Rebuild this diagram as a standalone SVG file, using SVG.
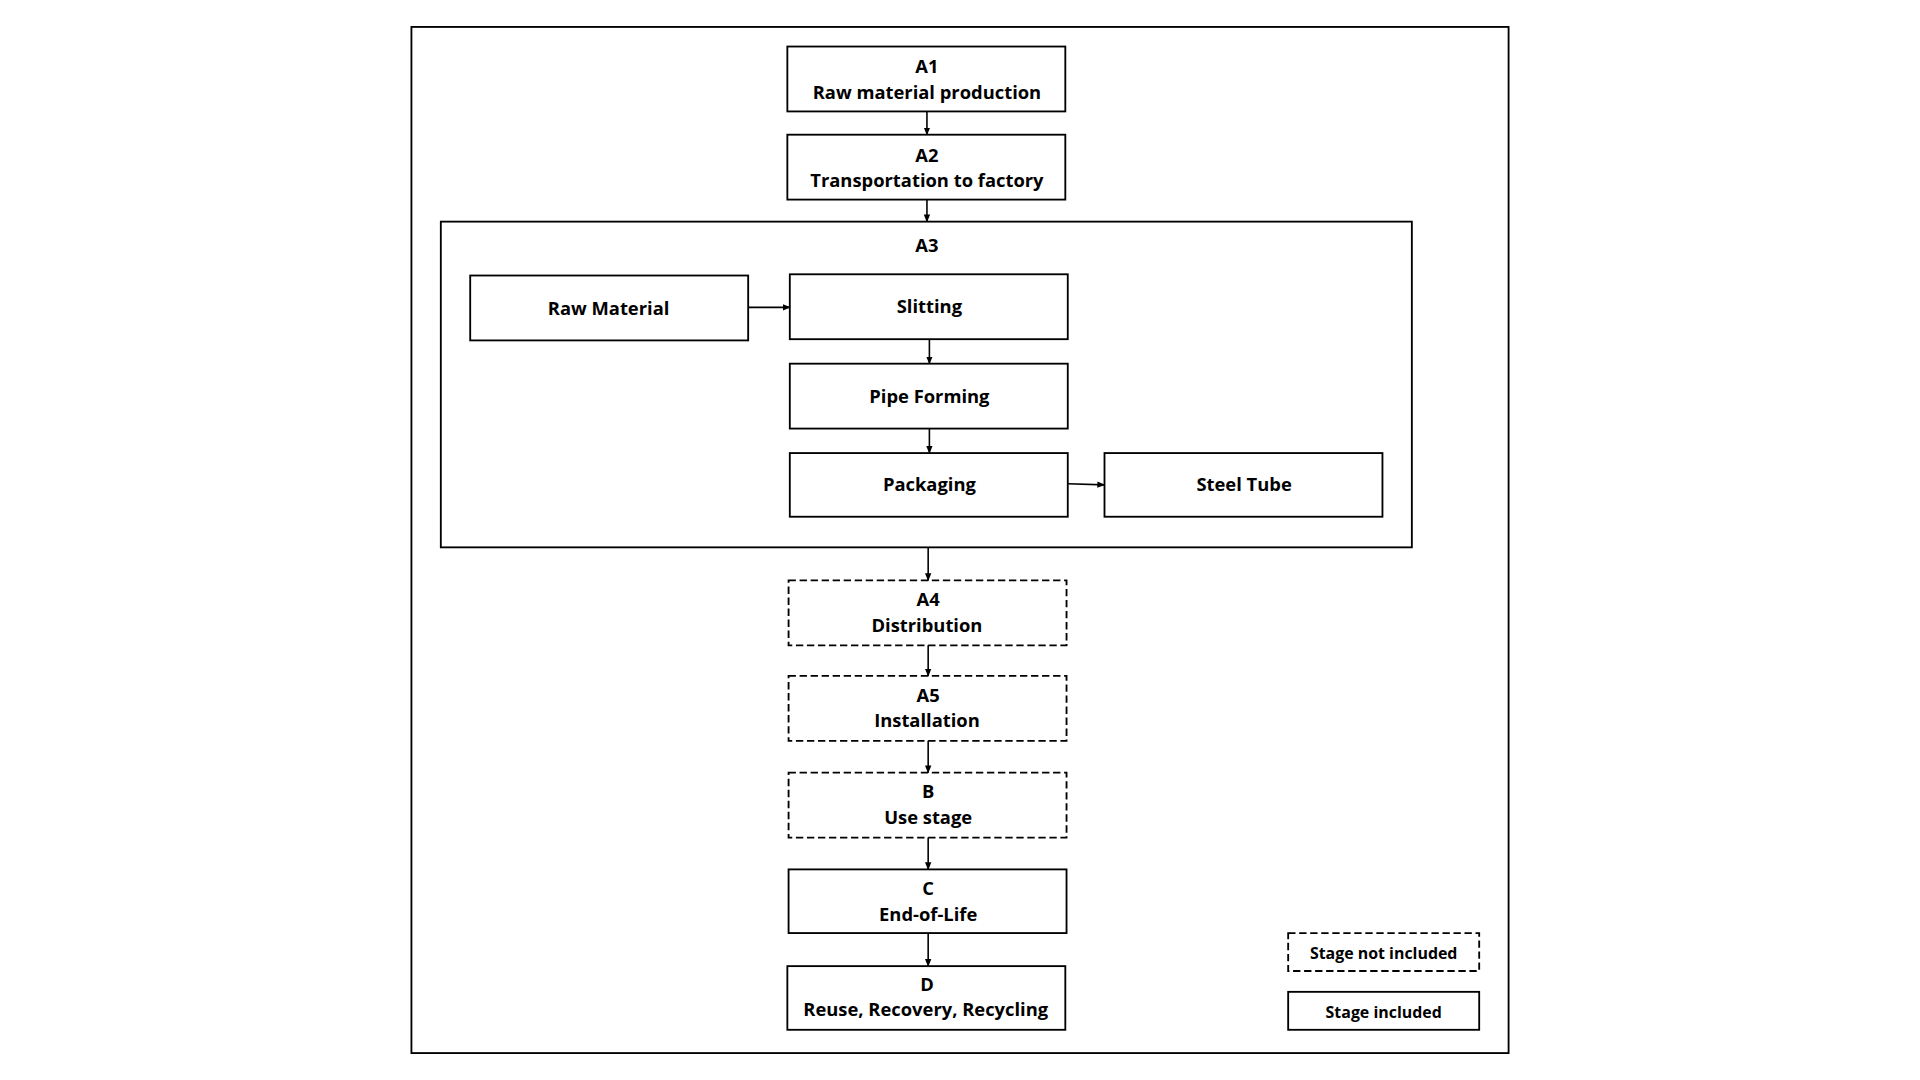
<svg xmlns="http://www.w3.org/2000/svg" width="1920" height="1080" viewBox="0 0 1920 1080">
<defs>
<marker id="ah" viewBox="0 0 10 10" refX="9" refY="5" markerWidth="5" markerHeight="5" orient="auto"><path d="M0,1 L10,5 L0,9 z" fill="#000"/></marker>
<style>
.b{fill:#fff;stroke:#000;stroke-width:1.5}
.d{fill:#fff;stroke:#000;stroke-width:1.5;stroke-dasharray:6,3}
.t{font-family:"Open Sans","Liberation Sans",sans-serif;font-weight:bold;font-size:15px;text-anchor:middle;fill:#000}
.s{font-size:13px}
.c{stroke:#000;stroke-width:1.3;fill:none;marker-end:url(#ah)}
</style>
</defs>
<rect width="1920" height="1080" fill="#fff"/>
<g transform="scale(1.2245)">
<rect x="336" y="22" width="896" height="838" fill="none" stroke="#000" stroke-width="1.5"/>
<g id="A3"><rect class="b" x="360" y="181" width="793" height="266"/><text class="t" x="757" y="206">A3</text></g>
<g id="A1"><rect class="b" x="643" y="38" width="227" height="53"/><text class="t" x="757" y="60">A1</text><text class="t" x="757" y="81">Raw material production</text></g>
<g id="A2"><rect class="b" x="643" y="110" width="227" height="53"/><text class="t" x="757" y="132">A2</text><text class="t" x="757" y="153">Transportation to factory</text></g>
<g id="raw"><rect class="b" x="384" y="225" width="227" height="53"/><text class="t" x="497" y="257">Raw Material</text></g>
<g id="slit"><rect class="b" x="645" y="224" width="227" height="53"/><text class="t" x="759" y="256">Slitting</text></g>
<g id="pipe"><rect class="b" x="645" y="297" width="227" height="53"/><text class="t" x="759" y="329">Pipe Forming</text></g>
<g id="pack"><rect class="b" x="645" y="370" width="227" height="52"/><text class="t" x="759" y="401">Packaging</text></g>
<g id="steel"><rect class="b" x="902" y="370" width="227" height="52"/><text class="t" x="1016" y="401">Steel Tube</text></g>
<g id="A4"><rect class="d" x="644" y="474" width="227" height="53"/><text class="t" x="758" y="495">A4</text><text class="t" x="757" y="516">Distribution</text></g>
<g id="A5"><rect class="d" x="644" y="552" width="227" height="53"/><text class="t" x="758" y="573">A5</text><text class="t" x="757" y="594">Installation</text></g>
<g id="B"><rect class="d" x="644" y="631" width="227" height="53"/><text class="t" x="758" y="652">B</text><text class="t" x="758" y="673">Use stage</text></g>
<g id="C"><rect class="b" x="644" y="710" width="227" height="52"/><text class="t" x="758" y="731">C</text><text class="t" x="758" y="752">End-of-Life</text></g>
<g id="D"><rect class="b" x="643" y="789" width="227" height="52"/><text class="t" x="757" y="809">D</text><text class="t" x="756" y="830">Reuse, Recovery, Recycling</text></g>
<g id="leg1"><rect class="d" x="1052" y="762" width="156" height="31"/><text class="t s" x="1130" y="783">Stage not included</text></g>
<g id="leg2"><rect class="b" x="1052" y="810" width="156" height="31"/><text class="t s" x="1130" y="831">Stage included</text></g>
<g id="connectors">
<line class="c" x1="757" y1="91" x2="757" y2="110"/>
<line class="c" x1="757" y1="163" x2="757" y2="181"/>
<line class="c" x1="611" y1="251" x2="645" y2="251"/>
<line class="c" x1="759" y1="277" x2="759" y2="297"/>
<line class="c" x1="759" y1="350" x2="759" y2="370"/>
<line class="c" x1="872" y1="395" x2="902" y2="396"/>
<line class="c" x1="758" y1="447" x2="758" y2="474"/>
<line class="c" x1="758" y1="527" x2="758" y2="552"/>
<line class="c" x1="758" y1="605" x2="758" y2="631"/>
<line class="c" x1="758" y1="684" x2="758" y2="710"/>
<line class="c" x1="758" y1="762" x2="758" y2="789"/>
</g>
</g>
</svg>
